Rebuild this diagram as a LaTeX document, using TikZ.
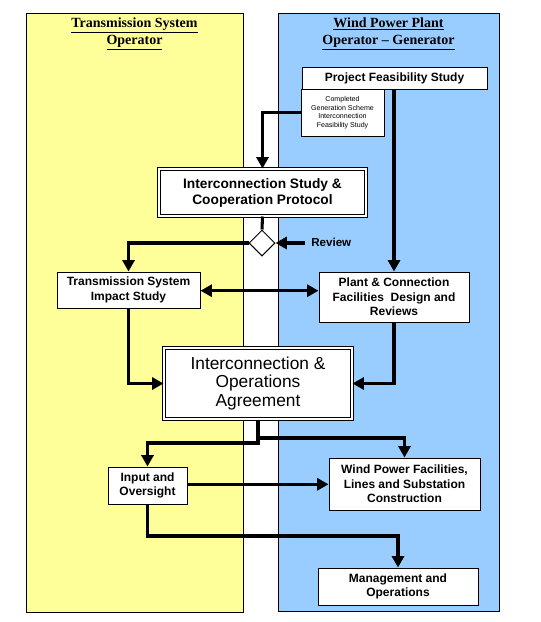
\documentclass[tikz,border=0pt]{standalone}
\usepackage{fontspec}
\setmainfont{Liberation Sans}
\newfontfamily\titlefont{Liberation Serif}
\usetikzlibrary{arrows.meta,shapes.geometric,calc}
\tikzset{
  panel/.style={draw=black,line width=0.75pt},
  box/.style={draw=black,fill=white,line width=0.75pt,rectangle,inner sep=0pt,align=center,
    font=\bfseries\fontsize{9}{11}\selectfont},
  dbox/.style={draw=black,fill=white,line width=0.75pt,double=white,double distance=1.7pt,
    rectangle,inner sep=0pt,align=center},
  conn/.style={line width=2.3pt,-{Triangle[length=8.5pt,width=9pt]}},
  plain/.style={line width=2.3pt},
  ttl/.style={align=center,font=\titlefont\bfseries\fontsize{10.5}{12.8}\selectfont},
}
\begin{document}
\begin{tikzpicture}[x=0.75pt,y=-0.75pt]
\useasboundingbox (0,0) rectangle (540,622);
% panels
\draw[panel,fill={rgb,255:red,255;green,255;blue,153}] (26,13) rectangle (243,612);
\draw[panel,fill={rgb,255:red,153;green,204;blue,255}] (278,13) rectangle (499,611);
\node[ttl] (t1) at (134.5,33.5) {\underline{Transmission System}\\\underline{Operator}};
\node[ttl] (t2) at (388.5,33.5) {\underline{Wind Power Plant}\\\underline{Operator – Generator}};
% boxes
\node[box,minimum width=185*0.75pt,minimum height=22*0.75pt] (pfs) at (394.5,78) {Project Feasibility Study};
\node[box,minimum width=83*0.75pt,minimum height=47*0.75pt,font=\fontsize{5.3}{6.4}\selectfont] (cgs) at (342.5,112.5)
  {Completed\\Generation Scheme\\Interconnection\\Feasibility Study};
\node[dbox,minimum width=207*0.75pt,minimum height=47*0.75pt,font=\bfseries\fontsize{10.3}{12}\selectfont] (iscp) at (262.5,192.5)
  {Interconnection Study \&\\Cooperation Protocol};
\node[diamond,draw=black,fill=white,line width=0.75pt,minimum width=26*0.75pt,minimum height=26*0.75pt,inner sep=0pt] (dia) at (262,243) {};
\node[box,minimum width=143*0.75pt,minimum height=36*0.75pt] (tsis) at (128.5,290) {Transmission System\\Impact Study};
\node[box,minimum width=150*0.75pt,minimum height=50*0.75pt] (pcf) at (394,297) {Plant \& Connection\\Facilities\ \ Design and\\Reviews};
\node[dbox,minimum width=188*0.75pt,minimum height=71*0.75pt,font=\fontsize{13}{13.7}\selectfont] (ioa) at (258,383.5)
  {Interconnection \&\\Operations\\Agreement};
\node[box,minimum width=79*0.75pt,minimum height=37*0.75pt] (io) at (147.5,485.5) {Input and\\Oversight};
\node[box,minimum width=151*0.75pt,minimum height=52*0.75pt] (wpf) at (404.5,484) {Wind Power Facilities,\\Lines and Substation\\Construction};
\node[box,minimum width=160*0.75pt,minimum height=37*0.75pt] (mo) at (398,586.5) {Management and\\Operations};
\node[anchor=west,inner sep=0pt,font=\bfseries\fontsize{8.7}{10}\selectfont] (rev) at (311,242) {Review};
\coordinate (revs) at (305,243);
% connectors
\draw[conn] (cgs.west) -| (iscp.north);
\draw[conn] (pfs.south -| pcf.north) -- (pcf.north);
\draw[plain] (iscp.south) -- (dia.north);
\draw[conn] (dia.west) -| (tsis.north);
\draw[conn] (revs) -- (dia.east);
\draw[line width=2.3pt,{Triangle[length=8.5pt,width=9pt]}-{Triangle[length=8.5pt,width=9pt]}] ($(tsis.east)+(0,0.7)$) -- ($(tsis.east -| pcf.west)+(0,0.7)$);
\draw[conn] (tsis.south) |- (ioa.west);
\draw[conn] (pcf.south) |- (ioa.east);
\draw[conn] (ioa.south) -- (ioa.south |- 0,443) -| (io.north);
\draw[conn] (ioa.south |- 0,438) -| (wpf.north);
\draw[conn] (io.east |- 0,484.3) -- (wpf.west |- 0,484.3);
\draw[conn] (io.south) -- (io.south |- 0,536) -| (mo.north);
\end{tikzpicture}
\end{document}
